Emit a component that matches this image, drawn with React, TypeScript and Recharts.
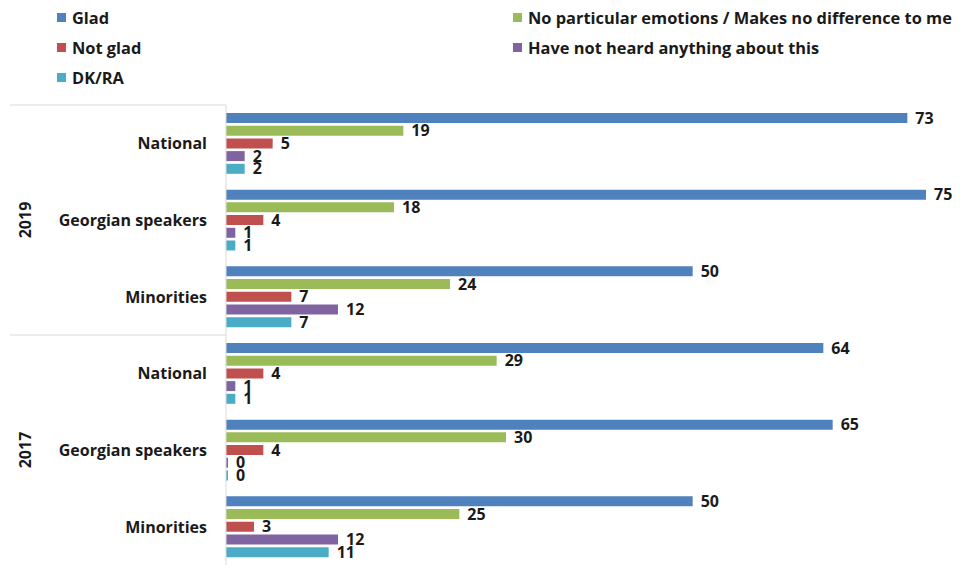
import React from "react";
import { BarChart, Bar, XAxis, YAxis, LabelList, Legend } from "recharts";

// Survey groups, top to bottom
const years = ["2019", "2019", "2019", "2017", "2017", "2017"];
const groups = ["National", "Georgian speakers", "Minorities", "National", "Georgian speakers", "Minorities"];

// Answer shares (%) per group
const glad = [73, 75, 50, 64, 65, 50];
const noEmotions = [19, 18, 24, 29, 30, 25];
const notGlad = [5, 4, 7, 4, 4, 3];
const notHeard = [2, 1, 12, 1, 0, 12];
const dkra = [2, 1, 7, 1, 0, 11];

const SERIES = [
  { key: "glad", name: "Glad", color: "#4F81BD" },
  { key: "noEmotions", name: "No particular emotions / Makes no difference to me", color: "#9BBB59" },
  { key: "notGlad", name: "Not glad", color: "#C0504D" },
  { key: "notHeard", name: "Have not heard anything about this", color: "#8064A2" },
  { key: "dkra", name: "DK/RA", color: "#4BACC6" },
];

const data = groups.map((g, i) => ({
  id: `${years[i]}-${g}`,
  year: years[i],
  group: g,
  glad: glad[i],
  noEmotions: noEmotions[i],
  notGlad: notGlad[i],
  notHeard: notHeard[i],
  dkra: dkra[i],
}));

const W = 960;
const H = 565;
const FONT = "'Open Sans', Lato, sans-serif";
const MARGIN = { top: 10, right: 6, bottom: 0, left: 0 };
const LEGEND_H = 95;
const PLOT_LEFT = 226;
const PLOT_TOP = MARGIN.top + LEGEND_H;
const GROUP_H = (H - PLOT_TOP - MARGIN.bottom) / 2;

const LegendGrid = () => (
  <div
    style={{
      display: "grid",
      gridTemplateColumns: "456px auto",
      gridAutoRows: "30px",
      paddingLeft: 57,
      paddingTop: 2,
      height: LEGEND_H - 2,
      fontFamily: FONT,
      fontWeight: 700,
      fontSize: 16.4,
      color: "#1a1a1a",
    }}
  >
    {SERIES.map((s) => (
      <div key={s.key} style={{ display: "flex", alignItems: "center", whiteSpace: "nowrap" }}>
        <span style={{ width: 9, height: 9, background: s.color, marginRight: 6, display: "inline-block" }} />
        {s.name}
      </div>
    ))}
  </div>
);

const GroupTick = (props: any) => {
  const { x, y, payload } = props;
  const label = String(payload.value).split("-").slice(1).join("-");
  return (
    <text x={x} y={y} dy={6} textAnchor="end" fontFamily={FONT} fontWeight={700} fontSize={16} fill="#1a1a1a">
      {label}
    </text>
  );
};

const YearTick = (props: any) => {
  const { y, payload } = props;
  return (
    <g>
      <line x1={10} x2={PLOT_LEFT} y1={y - GROUP_H / 2} y2={y - GROUP_H / 2} stroke="#d9d9d9" />
      <text
        x={25}
        y={y}
        transform={`rotate(-90 25 ${y})`}
        dy={6}
        textAnchor="middle"
        fontFamily={FONT}
        fontWeight={700}
        fontSize={16}
        fill="#1a1a1a"
      >
        {payload.value}
      </text>
    </g>
  );
};

export default function App() {
  return (
    <div style={{ position: "absolute", left: 0, top: 0, background: "#fff" }}>
      <BarChart
        width={W}
        height={H}
        data={data}
        layout="vertical"
        margin={MARGIN}
        barSize={10}
        barGap={2.7}
      >
        <XAxis type="number" domain={[0, 78]} hide />
        <YAxis
          yAxisId="group"
          type="category"
          dataKey="id"
          width={186}
          tick={<GroupTick />}
          tickLine={false}
          tickMargin={13}
          axisLine={{ stroke: "#d9d9d9" }}
          interval={0}
        />
        <YAxis
          yAxisId="year"
          type="category"
          dataKey="year"
          allowDuplicatedCategory={false}
          width={40}
          tick={<YearTick />}
          tickLine={false}
          axisLine={false}
        />
        <Legend verticalAlign="top" align="left" content={<LegendGrid />} wrapperStyle={{ top: 0, left: 0 }} />
        {SERIES.map((s) => (
          <Bar
            key={s.key}
            yAxisId="group"
            dataKey={s.key}
            name={s.name}
            fill={s.color}
            minPointSize={2}
            isAnimationActive={false}
          >
            <LabelList
              dataKey={s.key}
              position="right"
              offset={8}
              fontFamily={FONT}
              fontWeight={700}
              fontSize={16}
              fill="#1a1a1a"
            />
          </Bar>
        ))}
      </BarChart>
    </div>
  );
}
